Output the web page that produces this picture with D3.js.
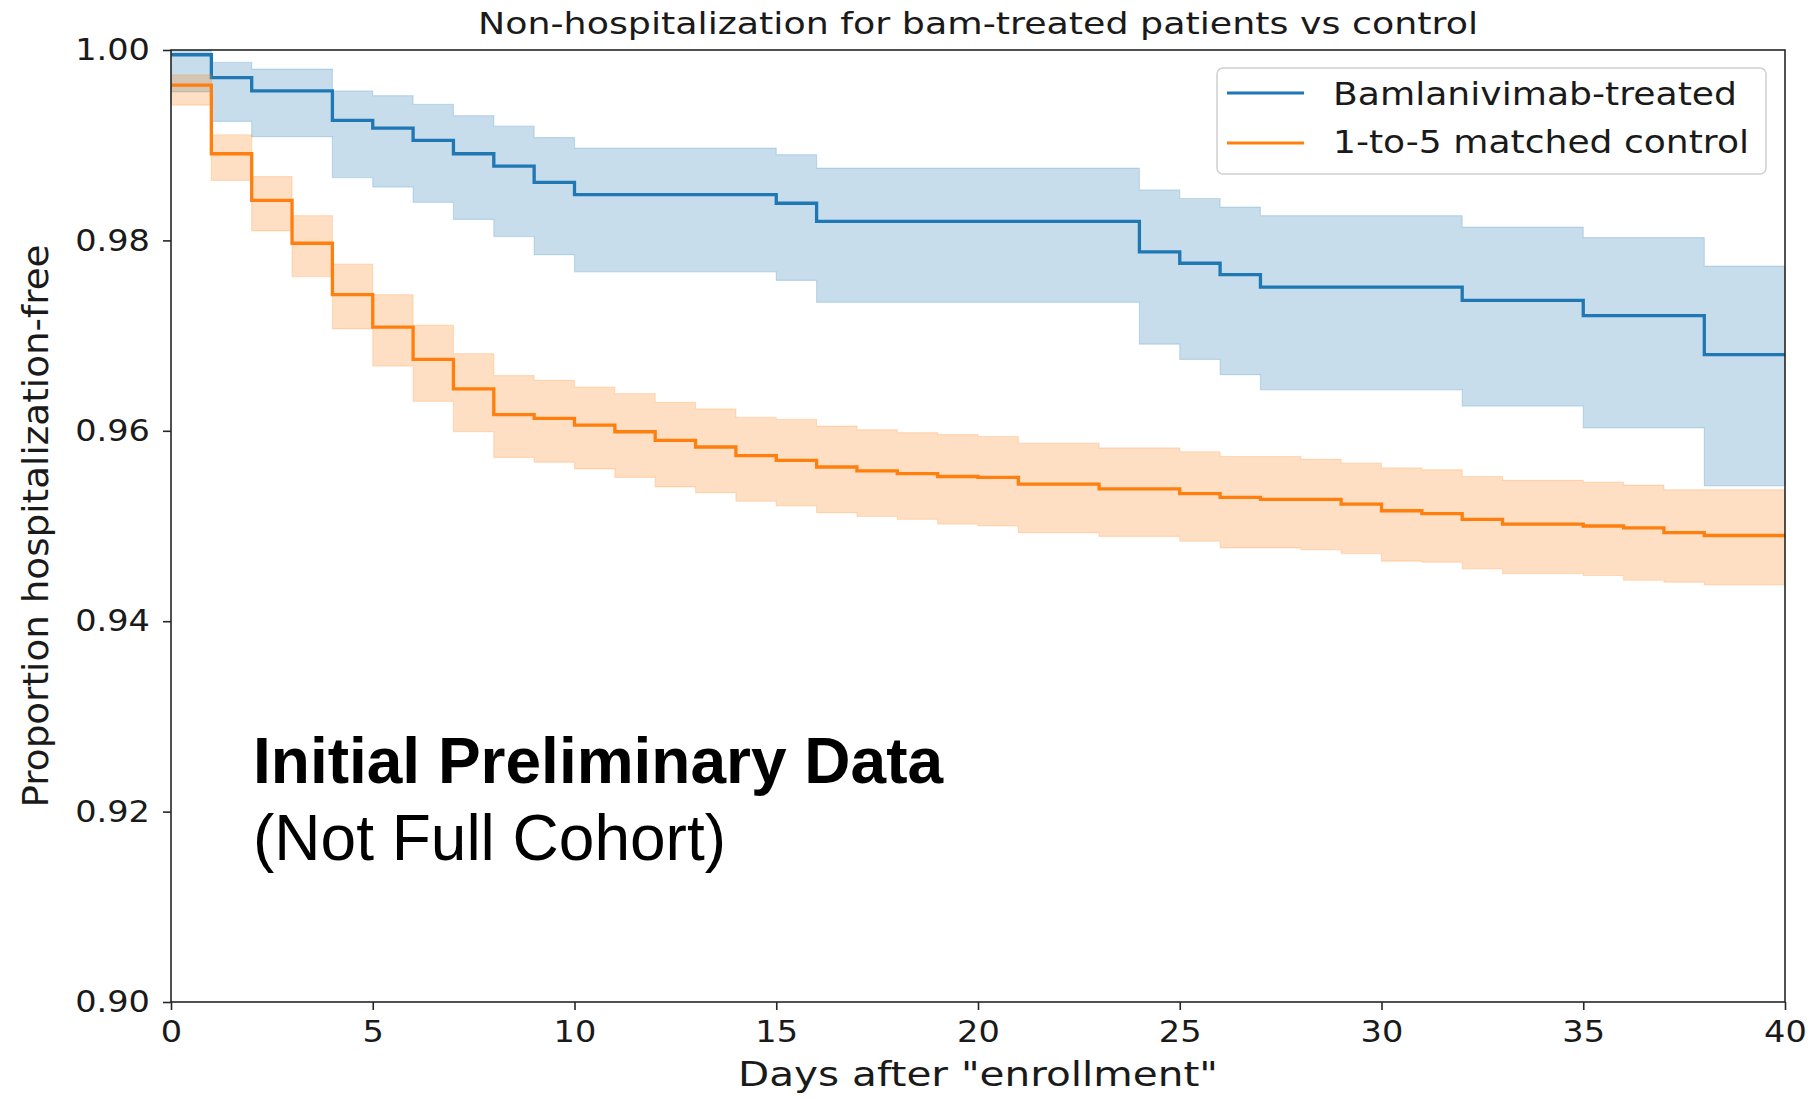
<!DOCTYPE html>
<html>
<head>
<meta charset="utf-8">
<script src="https://cdn.jsdelivr.net/npm/d3@7"></script>
<style>
  body { margin: 0; background: #ffffff; }
  svg { display: block; }
</style>
</head>
<body>
<svg id="chart" width="1810" height="1100"></svg>
<script>
// ---------------- DATA ----------------
const dayGrid = d3.range(0, 41);            // step times 0..40 (days)
const xTickValues = [0, 5, 10, 15, 20, 25, 30, 35, 40];
const yTickValues = [0.90, 0.92, 0.94, 0.96, 0.98, 1.00];
const seriesNames = ["Bamlanivimab-treated", "1-to-5 matched control"];
const titleText = "Non-hospitalization for bam-treated patients vs control";
const xLabelText = "Days after \"enrollment\"";
const yLabelText = "Proportion hospitalization-free";
const noteLines = ["Initial Preliminary Data", "(Not Full Cohort)"];

// value on interval [day, day+1)
const bamSurvival = [0.9995,0.9971,0.9957,0.9957,0.9926,0.9918,0.9905,0.9891,0.9878,0.9861,
  0.9848,0.9848,0.9848,0.9848,0.9848,0.9839,0.9820,0.9820,0.9820,0.9820,
  0.9820,0.9820,0.9820,0.9820,0.9788,0.9776,0.9764,0.9751,0.9751,0.9751,
  0.9751,0.9751,0.9737,0.9737,0.9737,0.9721,0.9721,0.9721,0.9680,0.9680];
const bamUpper = [1.0000,0.9987,0.9980,0.9980,0.9957,0.9952,0.9943,0.9931,0.9920,0.9908,
  0.9897,0.9897,0.9897,0.9897,0.9897,0.9890,0.9876,0.9876,0.9876,0.9876,
  0.9876,0.9876,0.9876,0.9876,0.9853,0.9844,0.9835,0.9826,0.9826,0.9826,
  0.9826,0.9826,0.9814,0.9814,0.9814,0.9803,0.9803,0.9803,0.9773,0.9773];
const bamLower = [0.9956,0.9925,0.9909,0.9909,0.9866,0.9856,0.9840,0.9822,0.9804,0.9785,
  0.9767,0.9767,0.9767,0.9767,0.9767,0.9758,0.9735,0.9735,0.9735,0.9735,
  0.9735,0.9735,0.9735,0.9735,0.9691,0.9675,0.9659,0.9643,0.9643,0.9643,
  0.9643,0.9643,0.9626,0.9626,0.9626,0.9603,0.9603,0.9603,0.9542,0.9542];

const ctrlSurvival = [0.9963,0.9891,0.9842,0.9797,0.9743,0.9709,0.9675,0.9644,0.9617,0.9613,
  0.9606,0.9599,0.9590,0.9583,0.9574,0.9569,0.9562,0.9558,0.9555,0.9552,
  0.9551,0.9544,0.9544,0.9539,0.9539,0.9534,0.9530,0.9528,0.9528,0.9523,
  0.9516,0.9513,0.9507,0.9502,0.9502,0.9500,0.9498,0.9493,0.9490,0.9490];
const ctrlUpper = [0.9974,0.9911,0.9867,0.9826,0.9775,0.9743,0.9711,0.9681,0.9658,0.9653,
  0.9646,0.9639,0.9630,0.9623,0.9614,0.9612,0.9605,0.9601,0.9598,0.9596,
  0.9594,0.9587,0.9587,0.9582,0.9582,0.9578,0.9573,0.9573,0.9570,0.9566,
  0.9561,0.9559,0.9552,0.9548,0.9548,0.9546,0.9543,0.9538,0.9538,0.9538];
const ctrlLower = [0.9942,0.9863,0.9810,0.9762,0.9707,0.9668,0.9631,0.9599,0.9572,0.9567,
  0.9560,0.9551,0.9541,0.9535,0.9526,0.9521,0.9514,0.9510,0.9507,0.9502,
  0.9500,0.9493,0.9493,0.9489,0.9489,0.9484,0.9477,0.9477,0.9475,0.9471,
  0.9463,0.9462,0.9455,0.9450,0.9450,0.9448,0.9443,0.9441,0.9438,0.9438];

const seriesColors = ["#1f77b4", "#ff7f0e"];

// ---------------- LAYOUT ----------------
const svg = d3.select("#chart");
const M = { left: 171, right: 1785, top: 50, bottom: 1002 };
const mplFont = "'DejaVu Sans', sans-serif";
const sx = 1.12;   // horizontal stretch of the original figure's text

const x = d3.scaleLinear().domain([0, 40]).range([M.left, M.right]);
const y = d3.scaleLinear().domain([0.90, 1.00]).range([M.bottom, M.top]);

svg.append("rect").attr("width", 1810).attr("height", 1100).attr("fill", "#fff");

svg.append("defs").append("clipPath").attr("id", "plotclip")
  .append("rect").attr("x", M.left).attr("y", M.top)
  .attr("width", M.right - M.left).attr("height", M.bottom - M.top);

const plot = svg.append("g").attr("clip-path", "url(#plotclip)");

function valAt(arr, d) { return arr[Math.min(d, arr.length - 1)]; }

const series = [
  { name: seriesNames[0], km: bamSurvival, lo: bamLower, hi: bamUpper, color: seriesColors[0] },
  { name: seriesNames[1], km: ctrlSurvival, lo: ctrlLower, hi: ctrlUpper, color: seriesColors[1] }
];

const area = d3.area().curve(d3.curveStepAfter)
  .x(d => x(d.t)).y0(d => y(d.lo)).y1(d => y(d.hi));
const line = d3.line().curve(d3.curveStepAfter)
  .x(d => x(d.t)).y(d => y(d.v));

series.forEach(s => {
  const bandData = dayGrid.map(d => ({ t: d, lo: valAt(s.lo, d), hi: valAt(s.hi, d) }));
  const lineData = dayGrid.map(d => ({ t: d, v: valAt(s.km, d) }));
  plot.append("path").datum(bandData)
    .attr("d", area)
    .attr("fill", s.color).attr("fill-opacity", 0.25)
    .attr("stroke", s.color).attr("stroke-opacity", 0.2).attr("stroke-width", 1.2);
  plot.append("path").datum(lineData)
    .attr("d", line)
    .attr("fill", "none").attr("stroke", s.color)
    .attr("stroke-width", 3.3).attr("stroke-linejoin", "miter");
});

// ---------------- AXES ----------------
const spineColor = "#262626";
const xAxis = d3.axisBottom(x).tickValues(xTickValues).tickFormat(d3.format("d"))
  .tickSize(8).tickPadding(11).tickSizeOuter(0);
const yAxis = d3.axisLeft(y).tickValues(yTickValues).tickFormat(d3.format(".2f"))
  .tickSize(8).tickPadding(13).tickSizeOuter(0);

const gx = svg.append("g").attr("transform", `translate(0,${M.bottom})`).call(xAxis);
const gy = svg.append("g").attr("transform", `translate(${M.left},0)`).call(yAxis);

[gx, gy].forEach(g => {
  g.select(".domain").remove();
  g.selectAll(".tick line").attr("stroke", spineColor).attr("stroke-width", 1.6);
  g.selectAll(".tick text").attr("fill", "#1a1a1a")
    .style("font-family", mplFont).style("font-size", "30px");
});
gx.selectAll(".tick text").attr("x", 0).attr("transform", `scale(${sx},1)`);
gy.selectAll(".tick text").attr("x", -21 / sx).attr("transform", `scale(${sx},1)`);

// frame (spines)
svg.append("rect")
  .attr("x", M.left).attr("y", M.top)
  .attr("width", M.right - M.left).attr("height", M.bottom - M.top)
  .attr("fill", "none").attr("stroke", spineColor).attr("stroke-width", 1.6);

// ---------------- TEXTS ----------------
svg.append("text")
  .attr("x", (M.left + M.right) / 2).attr("y", 34)
  .attr("text-anchor", "middle")
  .attr("textLength", 1000).attr("lengthAdjust", "spacingAndGlyphs")
  .style("font-family", mplFont).style("font-size", "31px").attr("fill", "#1a1a1a")
  .text(titleText);

svg.append("text")
  .attr("x", (M.left + M.right) / 2).attr("y", 1086)
  .attr("text-anchor", "middle")
  .attr("textLength", 480).attr("lengthAdjust", "spacingAndGlyphs")
  .style("font-family", mplFont).style("font-size", "33px").attr("fill", "#1a1a1a")
  .text(xLabelText);

svg.append("text")
  .attr("transform", `translate(48,${(M.top + M.bottom) / 2}) scale(${sx},1) rotate(-90)`)
  .attr("text-anchor", "middle")
  .attr("textLength", 563).attr("lengthAdjust", "spacingAndGlyphs")
  .style("font-family", mplFont).style("font-size", "32px").attr("fill", "#1a1a1a")
  .text(yLabelText);

// annotation
svg.append("text").attr("x", 253).attr("y", 783)
  .style("font-family", "'Liberation Sans', Arial, sans-serif")
  .style("font-size", "64px").style("font-weight", "bold").attr("fill", "#000")
  .text(noteLines[0]);
svg.append("text").attr("x", 253).attr("y", 860)
  .style("font-family", "'Liberation Sans', Arial, sans-serif")
  .style("font-size", "64px").attr("fill", "#000")
  .text(noteLines[1]);

// ---------------- LEGEND ----------------
const lg = svg.append("g");
lg.append("rect").attr("x", 1217).attr("y", 68).attr("width", 549).attr("height", 106)
  .attr("rx", 6).attr("fill", "#fff").attr("fill-opacity", 0.85)
  .attr("stroke", "#d0d0d0").attr("stroke-width", 1.5);
const legendRows = [
  { y: 93, base: 105, w: 404 },
  { y: 143, base: 153, w: 416 }
];
series.forEach((s, i) => {
  lg.append("line").attr("x1", 1227).attr("x2", 1304)
    .attr("y1", legendRows[i].y).attr("y2", legendRows[i].y)
    .attr("stroke", s.color).attr("stroke-width", 3);
  lg.append("text").attr("x", 1333).attr("y", legendRows[i].base)
    .attr("textLength", legendRows[i].w).attr("lengthAdjust", "spacingAndGlyphs")
    .style("font-family", mplFont).style("font-size", "32px").attr("fill", "#1a1a1a")
    .text(s.name);
});
</script>
</body>
</html>
